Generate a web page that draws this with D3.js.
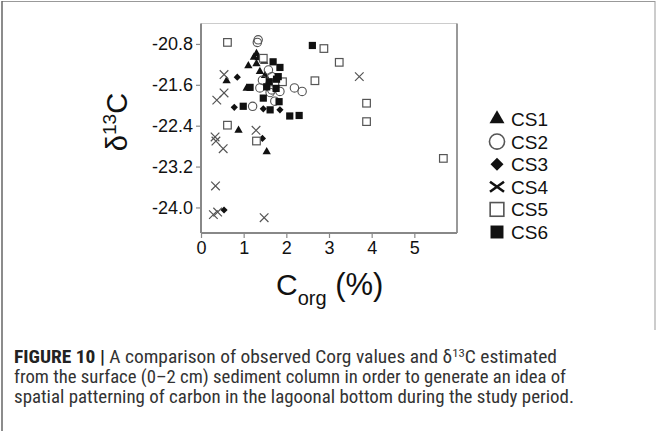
<!DOCTYPE html>
<html><head><meta charset="utf-8">
<script src="https://cdn.jsdelivr.net/npm/d3@7"></script>
<style>
html,body{margin:0;padding:0;background:#fff;}
svg{display:block;font-family:"Liberation Sans",Arial,sans-serif;}
</style></head>
<body><svg id="c" width="657" height="431"></svg>
<script>
// ---- data ----
const seriesNames = ["CS1","CS2","CS3","CS4","CS5","CS6"];
const cs1 = [[1.30,-20.99],[1.24,-21.06],[1.35,-21.07],[1.11,-21.23],[1.30,-21.19],[1.48,-21.14],[1.38,-21.34],[1.50,-21.42],[0.60,-21.52],[1.07,-21.67],[0.88,-22.49],[1.54,-22.91]];
const cs2 = [[1.34,-20.72],[1.32,-20.77],[1.58,-21.31],[1.66,-21.44],[1.44,-21.51],[1.38,-21.66],[1.66,-21.70],[1.85,-21.73],[1.62,-21.75],[1.73,-21.92],[1.21,-22.02],[2.19,-21.66],[2.37,-21.73]];
const cs3 = [[0.85,-21.45],[0.78,-22.04],[1.46,-22.07],[1.85,-22.09],[1.44,-22.65],[0.54,-24.05]];
const cs4 = [[0.54,-21.40],[0.54,-21.76],[0.37,-21.90],[1.29,-22.49],[0.33,-22.62],[0.35,-22.70],[0.52,-22.85],[0.34,-23.58],[0.29,-24.14],[0.39,-24.09],[1.48,-24.20],[3.71,-21.44]];
const cs5 = [[0.62,-20.77],[1.46,-21.08],[2.88,-20.89],[3.24,-21.16],[2.67,-21.52],[1.91,-21.54],[3.88,-21.96],[3.88,-22.32],[0.62,-22.39],[1.30,-22.70],[5.68,-23.04]];
const cs6 = [[2.61,-20.83],[1.69,-21.15],[1.85,-21.26],[1.81,-21.44],[1.60,-21.54],[1.77,-21.49],[1.15,-21.65],[1.54,-21.64],[1.76,-21.67],[1.46,-21.86],[0.99,-22.02],[1.62,-22.09],[2.08,-22.21],[2.30,-22.20],[1.83,-21.93]];
const xTicks = [0,1,2,3,4,5];
const yTicks = [-20.8,-21.6,-22.4,-23.2,-24.0];
const captionLines = [
  "from the surface (0\u20132 cm) sediment column in order to generate an idea of",
  "spatial patterning of carbon in the lagoonal bottom during the study period."
];

// ---- layout ----
const svg = d3.select("#c");
const L=201, R=457, T=23.5, B=233;
const x = d3.scaleLinear().domain([0,6]).range([L,R]);
const y = d3.scaleLinear().domain([-24.5,-20.4]).range([B,T]);

// outer frame
svg.append("line").attr("x1",2).attr("x2",655).attr("y1",1.5).attr("y2",1.5).attr("stroke","#999").attr("stroke-width",1);
svg.append("line").attr("x1",2).attr("x2",2).attr("y1",1).attr("y2",431).attr("stroke","#666").attr("stroke-width",1.5);
svg.append("line").attr("x1",655).attr("x2",655).attr("y1",1).attr("y2",330).attr("stroke","#999").attr("stroke-width",1);

// plot box (top/right)
svg.append("line").attr("x1",L).attr("x2",R).attr("y1",T).attr("y2",T).attr("stroke","#ccc").attr("stroke-width",1);
svg.append("line").attr("x1",R).attr("x2",R).attr("y1",T).attr("y2",B).attr("stroke","#999").attr("stroke-width",2);

// axes
const ax = svg.append("g").attr("transform",`translate(0,${B})`)
  .call(d3.axisBottom(x).tickValues(xTicks).tickFormat(d=>String(d)).tickSize(5).tickSizeOuter(0).tickPadding(3));
const ay = svg.append("g").attr("transform",`translate(${L},0)`)
  .call(d3.axisLeft(y).tickValues(yTicks).tickFormat(d=>d.toFixed(1)).tickSize(5).tickSizeOuter(0).tickPadding(3));
[ax,ay].forEach(g=>{
  g.select(".domain").attr("stroke","#888").attr("stroke-width",2);
  g.selectAll(".tick line").attr("stroke","#888").attr("stroke-width",1.2);
  g.selectAll(".tick text").attr("fill","#111").style("font-size","18px").style("font-family","Liberation Sans, Arial, sans-serif");
});
ax.select(".domain").attr("d",`M${L},0H${R}`);
ay.select(".domain").attr("d",`M0,${T}V${B}`);

// axis titles
const yt = svg.append("text").attr("transform","translate(127,122) rotate(-90)")
  .attr("text-anchor","middle").attr("fill","#111").style("font-size","29px");
yt.append("tspan").text("\u03B4");
yt.append("tspan").attr("dy",-11).style("font-size","19px").text("13");
yt.append("tspan").attr("dy",11).text("C");

const xt = svg.append("text").attr("x",276).attr("y",295).attr("fill","#111").style("font-size","30px");
xt.append("tspan").text("C");
xt.append("tspan").attr("dy",10).style("font-size","20px").text("org");
xt.append("tspan").attr("dy",-10).style("font-size","31px").text(" (%)");

// markers
function xPath(s){ return `M${-s},${-s}L${s},${s}M${-s},${s}L${s},${-s}`; }
function drawMarker(g, kind, big){
  const k = big ? 1.8 : 1;
  if(kind==="CS1") g.append("path").attr("d",d3.symbol(d3.symbolTriangle, 30*k*k)()).attr("fill","#111");
  if(kind==="CS2") g.append("circle").attr("r",4.2*k).attr("fill","none").attr("stroke","#555").attr("stroke-width",big?1.6:1.1);
  if(kind==="CS3") g.append("path").attr("d",d3.symbol(d3.symbolSquare, 26*k*k)()).attr("transform","rotate(45)").attr("fill","#111");
  if(kind==="CS4") g.append("path").attr("d", big ? "M-7,-5L7,5M-7,5L7,-5" : xPath(4.3)).attr("stroke", big?"#111":"#555").attr("stroke-width",big?2.6:1.2).attr("fill","none");
  if(kind==="CS5") g.append("rect").attr("x",-3.8*k).attr("y",-3.8*k).attr("width",7.6*k).attr("height",7.6*k).attr("fill","#fff").attr("stroke","#555").attr("stroke-width",big?1.6:1.2);
  if(kind==="CS6") g.append("rect").attr("x",-3.6*k).attr("y",-3.6*k).attr("width",7.2*k).attr("height",7.2*k).attr("fill","#111");
}
const allSeries = [cs1,cs2,cs3,cs4,cs5,cs6];
const plot = svg.append("g");
allSeries.forEach((data,i)=>{
  plot.selectAll(null).data(data).enter().append("g")
    .attr("transform",d=>`translate(${x(d[0])},${y(d[1])})`)
    .each(function(){ drawMarker(d3.select(this), seriesNames[i], false); });
});

// legend
const leg = svg.append("g");
seriesNames.forEach((n,i)=>{
  const gy = 119 + i*22.6;
  const g = leg.append("g").attr("transform",`translate(497,${gy})`);
  drawMarker(g, n, true);
  leg.append("text").attr("x",511).attr("y",gy+7).attr("fill","#111").style("font-size","19px").text(n);
});

// caption
const cap = svg.append("g").attr("fill","#333").style("font-size","17.5px")
  .style("font-family","'Liberation Sans Narrow','Roboto Condensed','Liberation Sans',Arial,sans-serif");
const c1 = cap.append("text").attr("x",14).attr("y",363).attr("textLength",543).attr("lengthAdjust","spacingAndGlyphs");
c1.append("tspan").attr("font-weight","bold").attr("fill","#222").text("FIGURE 10 | ");
c1.append("tspan").text("A comparison of observed Corg values and \u03B4");
c1.append("tspan").attr("dy",-6).style("font-size","11.5px").text("13");
c1.append("tspan").attr("dy",6).text("C estimated");
cap.append("text").attr("x",14).attr("y",383).attr("textLength",552).attr("lengthAdjust","spacingAndGlyphs").text(captionLines[0]);
cap.append("text").attr("x",14).attr("y",403).attr("textLength",560).attr("lengthAdjust","spacingAndGlyphs").text(captionLines[1]);
</script></body></html>
